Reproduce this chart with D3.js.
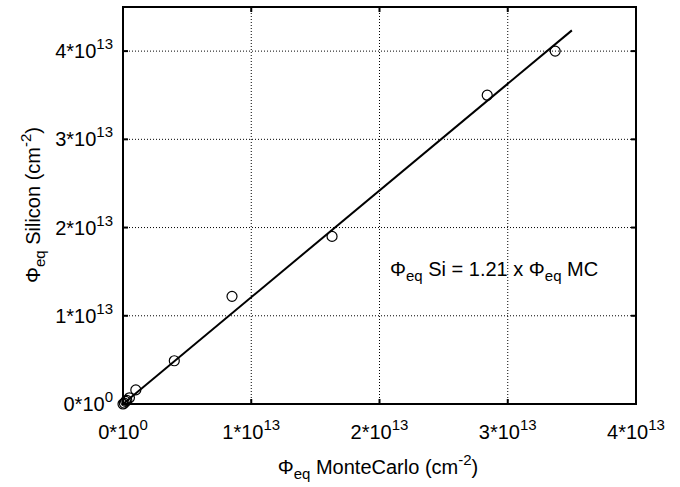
<!DOCTYPE html>
<html>
<head>
<script src="https://cdn.jsdelivr.net/npm/d3@7"></script>
<style>
  body { margin: 0; background: #fff; }
  text { font-family: "Liberation Sans", Arial, sans-serif; fill: #000; }
</style>
</head>
<body>
<svg width="680" height="487"></svg>
<script>
// data (units of 1e13 cm^-2)
var mcFluence = [0.0, 0.01, 0.02, 0.03, 0.05, 0.10, 0.40, 0.85, 1.63, 2.84, 3.37];
var siFluence = [0.0, 0.01, 0.03, 0.04, 0.07, 0.16, 0.49, 1.22, 1.90, 3.50, 4.00];
var fitSlope = 1.21;
var fitRange = [0, 3.5];
var xTicks = [0, 1, 2, 3, 4];
var yTicks = [0, 1, 2, 3, 4];

var svg = d3.select("svg");
var pLeft = 123, pRight = 636, pTop = 7, pBottom = 404;

var x = d3.scaleLinear().domain([0, 4]).range([pLeft, pRight]);
var y = d3.scaleLinear().domain([0, 4.5]).range([pBottom, pTop]);

// dotted grid
svg.selectAll(".vgrid").data(xTicks.slice(1, -1)).enter().append("line")
  .attr("x1", d => x(d)).attr("x2", d => x(d))
  .attr("y1", pTop).attr("y2", pBottom)
  .attr("stroke", "#000").attr("stroke-width", 1).attr("stroke-dasharray", "1,2");
svg.selectAll(".hgrid").data(yTicks.slice(1)).enter().append("line")
  .attr("x1", pLeft).attr("x2", pRight)
  .attr("y1", d => y(d)).attr("y2", d => y(d))
  .attr("stroke", "#000").attr("stroke-width", 1).attr("stroke-dasharray", "1,2");

// inward ticks on all four sides
var tl = 5;
xTicks.slice(1, -1).forEach(function (d) {
  svg.append("line").attr("x1", x(d)).attr("x2", x(d)).attr("y1", pBottom).attr("y2", pBottom - tl)
    .attr("stroke", "#000").attr("stroke-width", 2);
  svg.append("line").attr("x1", x(d)).attr("x2", x(d)).attr("y1", pTop).attr("y2", pTop + tl)
    .attr("stroke", "#000").attr("stroke-width", 2);
});
yTicks.slice(1).forEach(function (d) {
  svg.append("line").attr("x1", pLeft).attr("x2", pLeft + tl).attr("y1", y(d)).attr("y2", y(d))
    .attr("stroke", "#000").attr("stroke-width", 2);
  svg.append("line").attr("x1", pRight).attr("x2", pRight - tl).attr("y1", y(d)).attr("y2", y(d))
    .attr("stroke", "#000").attr("stroke-width", 2);
});

// frame
svg.append("rect").attr("x", pLeft).attr("y", pTop)
  .attr("width", pRight - pLeft).attr("height", pBottom - pTop)
  .attr("fill", "none").attr("stroke", "#000").attr("stroke-width", 2);

function tickLabel(sel, d) {
  sel.append("tspan").text(d + "*10");
  sel.append("tspan").attr("dy", -9).attr("font-size", 15).text(d === 0 ? "0" : "13");
}

// x tick labels
xTicks.forEach(function (d) {
  var t = svg.append("text").attr("x", x(d)).attr("y", 439)
    .attr("text-anchor", "middle").attr("font-size", 20);
  tickLabel(t, d);
});
// y tick labels
yTicks.forEach(function (d) {
  var t = svg.append("text").attr("x", 113).attr("y", y(d) + 7)
    .attr("text-anchor", "end").attr("font-size", 20);
  tickLabel(t, d);
});

// fit line
svg.append("line")
  .attr("x1", x(fitRange[0])).attr("y1", y(fitRange[0] * fitSlope))
  .attr("x2", x(fitRange[1])).attr("y2", y(fitRange[1] * fitSlope))
  .attr("stroke", "#000").attr("stroke-width", 2);

// data points
svg.selectAll(".pt").data(mcFluence).enter().append("circle")
  .attr("cx", d => x(d))
  .attr("cy", (d, i) => y(siFluence[i]))
  .attr("r", 5)
  .attr("fill", "none").attr("stroke", "#000").attr("stroke-width", 1.2);

// axis titles
var xt = svg.append("text").attr("x", 378).attr("y", 474)
  .attr("text-anchor", "middle").attr("font-size", 20);
xt.append("tspan").text("\u03A6");
xt.append("tspan").attr("dy", 5).attr("font-size", 15).text("eq");
xt.append("tspan").attr("dy", -5).text(" MonteCarlo (cm");
xt.append("tspan").attr("dy", -9).attr("font-size", 15).text("-2");
xt.append("tspan").attr("dy", 9).text(")");

var yt = svg.append("text").attr("transform", "translate(40,205) rotate(-90)")
  .attr("text-anchor", "middle").attr("font-size", 20);
yt.append("tspan").text("\u03A6");
yt.append("tspan").attr("dy", 5).attr("font-size", 15).text("eq");
yt.append("tspan").attr("dy", -5).text(" Silicon (cm");
yt.append("tspan").attr("dy", -9).attr("font-size", 15).text("-2");
yt.append("tspan").attr("dy", 9).text(")");

// annotation
var an = svg.append("text").attr("x", 390).attr("y", 276).attr("font-size", 20);
an.append("tspan").text("\u03A6");
an.append("tspan").attr("dy", 5).attr("font-size", 15).text("eq");
an.append("tspan").attr("dy", -5).text(" Si = " + fitSlope.toFixed(2) + " x \u03A6");
an.append("tspan").attr("dy", 5).attr("font-size", 15).text("eq");
an.append("tspan").attr("dy", -5).text(" MC");
</script>
</body>
</html>
